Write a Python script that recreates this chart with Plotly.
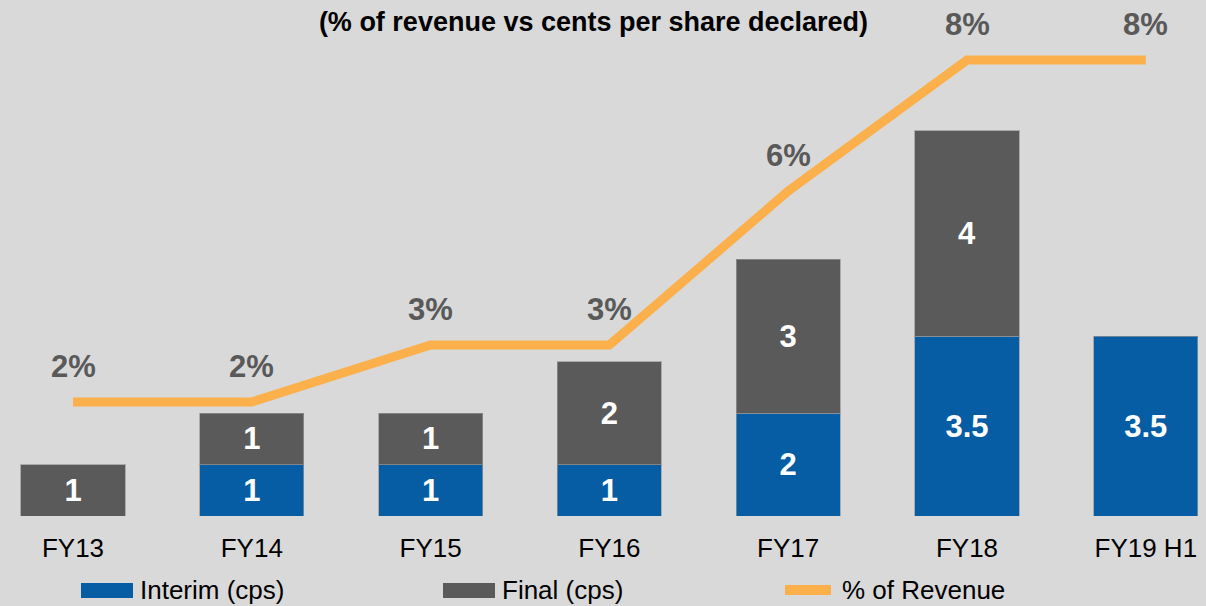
import plotly.graph_objects as go

categories = ["FY13", "FY14", "FY15", "FY16", "FY17", "FY18", "FY19 H1"]
interim = [None, 1, 1, 1, 2, 3.5, 3.5]
final = [1, 1, 1, 2, 3, 4, None]
pct_revenue = [2.0, 2.0, 3.0, 3.0, 5.7, 8.0, 8.0]

BLUE = "#065DA4"
GRAY = "#5A5A5A"
ORANGE = "#FBB04B"
BG = "#D9D9D9"
FONT = "Liberation Sans, Arial, sans-serif"

W, H = 1206, 606
T, B = 20, 90
plot_h = H - T - B

def fmt(v):
    if v is None:
        return ""
    return f"{v:g}"

fig = go.Figure()
fig.add_trace(go.Bar(
    x=categories, y=interim, name="Interim (cps)",
    marker=dict(color=BLUE, line=dict(color="rgba(150,150,150,0.7)", width=1)),
    text=[fmt(v) for v in interim], textposition="inside", insidetextanchor="middle",
    textfont=dict(family=FONT, size=31, color="white", weight="bold"),
    textangle=0, showlegend=False,
))
fig.add_trace(go.Bar(
    x=categories, y=final, name="Final (cps)",
    marker=dict(color=GRAY, line=dict(color="rgba(150,150,150,0.7)", width=1)),
    text=[fmt(v) for v in final], textposition="inside", insidetextanchor="middle",
    textfont=dict(family=FONT, size=31, color="white", weight="bold"),
    textangle=0, showlegend=False,
))
fig.add_trace(go.Scatter(
    x=categories, y=pct_revenue, yaxis="y2", mode="lines", name="% of Revenue",
    line=dict(color=ORANGE, width=9), showlegend=False,
))

for c, v in zip(categories, pct_revenue):
    fig.add_annotation(
        x=c, y=v, yref="y2", text=f"{round(v)}%", showarrow=False,
        yshift=36, font=dict(family=FONT, size=31, color="#595959", weight="bold"),
    )

# custom legend
def py(ypix):
    return (H - B - ypix) / plot_h

legend_items = [
    ("rect", BLUE, 81, 133, "Interim (cps)", 138),
    ("rect", GRAY, 443, 495, "Final (cps)", 500),
    ("line", ORANGE, 785, 831, "% of Revenue", 840),
]
for kind, col, x0, x1, label, tx in legend_items:
    if kind == "rect":
        fig.add_shape(type="rect", xref="paper", yref="paper",
                      x0=x0 / W, x1=x1 / W, y0=py(598), y1=py(583),
                      fillcolor=col, line=dict(width=0))
    else:
        fig.add_shape(type="line", xref="paper", yref="paper",
                      x0=x0 / W, x1=x1 / W, y0=py(590), y1=py(590),
                      line=dict(color=col, width=10))
    fig.add_annotation(xref="paper", yref="paper", x=tx / W, y=py(590),
                       xanchor="left", yanchor="middle", text=label, showarrow=False,
                       font=dict(family=FONT, size=26, color="black"))

x0v = -73 / 178.8
x1v = (W - 73) / 178.8
fig.update_layout(
    width=W, height=H,
    paper_bgcolor=BG, plot_bgcolor=BG,
    margin=dict(l=0, r=0, t=T, b=B),
    barmode="stack", bargap=0.418,
    title=dict(text="<b>(% of revenue vs cents per share declared)</b>",
               x=593.5 / W, xanchor="center", y=1 - 22 / H, yanchor="middle",
               xref="paper", yref="container",
               font=dict(family=FONT, size=27, color="black")),
    xaxis=dict(range=[x0v, x1v], showgrid=False, zeroline=False, showline=False,
               ticks="", ticklabelstandoff=14,
               tickfont=dict(family=FONT, size=26, color="black")),
    yaxis=dict(range=[0, plot_h / 51.4], visible=False, showgrid=False),
    yaxis2=dict(range=[0, plot_h / 57.0], overlaying="y", visible=False, showgrid=False),
    showlegend=False,
)

fig.write_html(
    "out.html",
    config={"displayModeBar": False},
    post_script="document.body.style.margin='0';document.body.style.padding='0';"
                "document.body.style.background='#D9D9D9';"
                "document.documentElement.style.background='#D9D9D9';",
)
